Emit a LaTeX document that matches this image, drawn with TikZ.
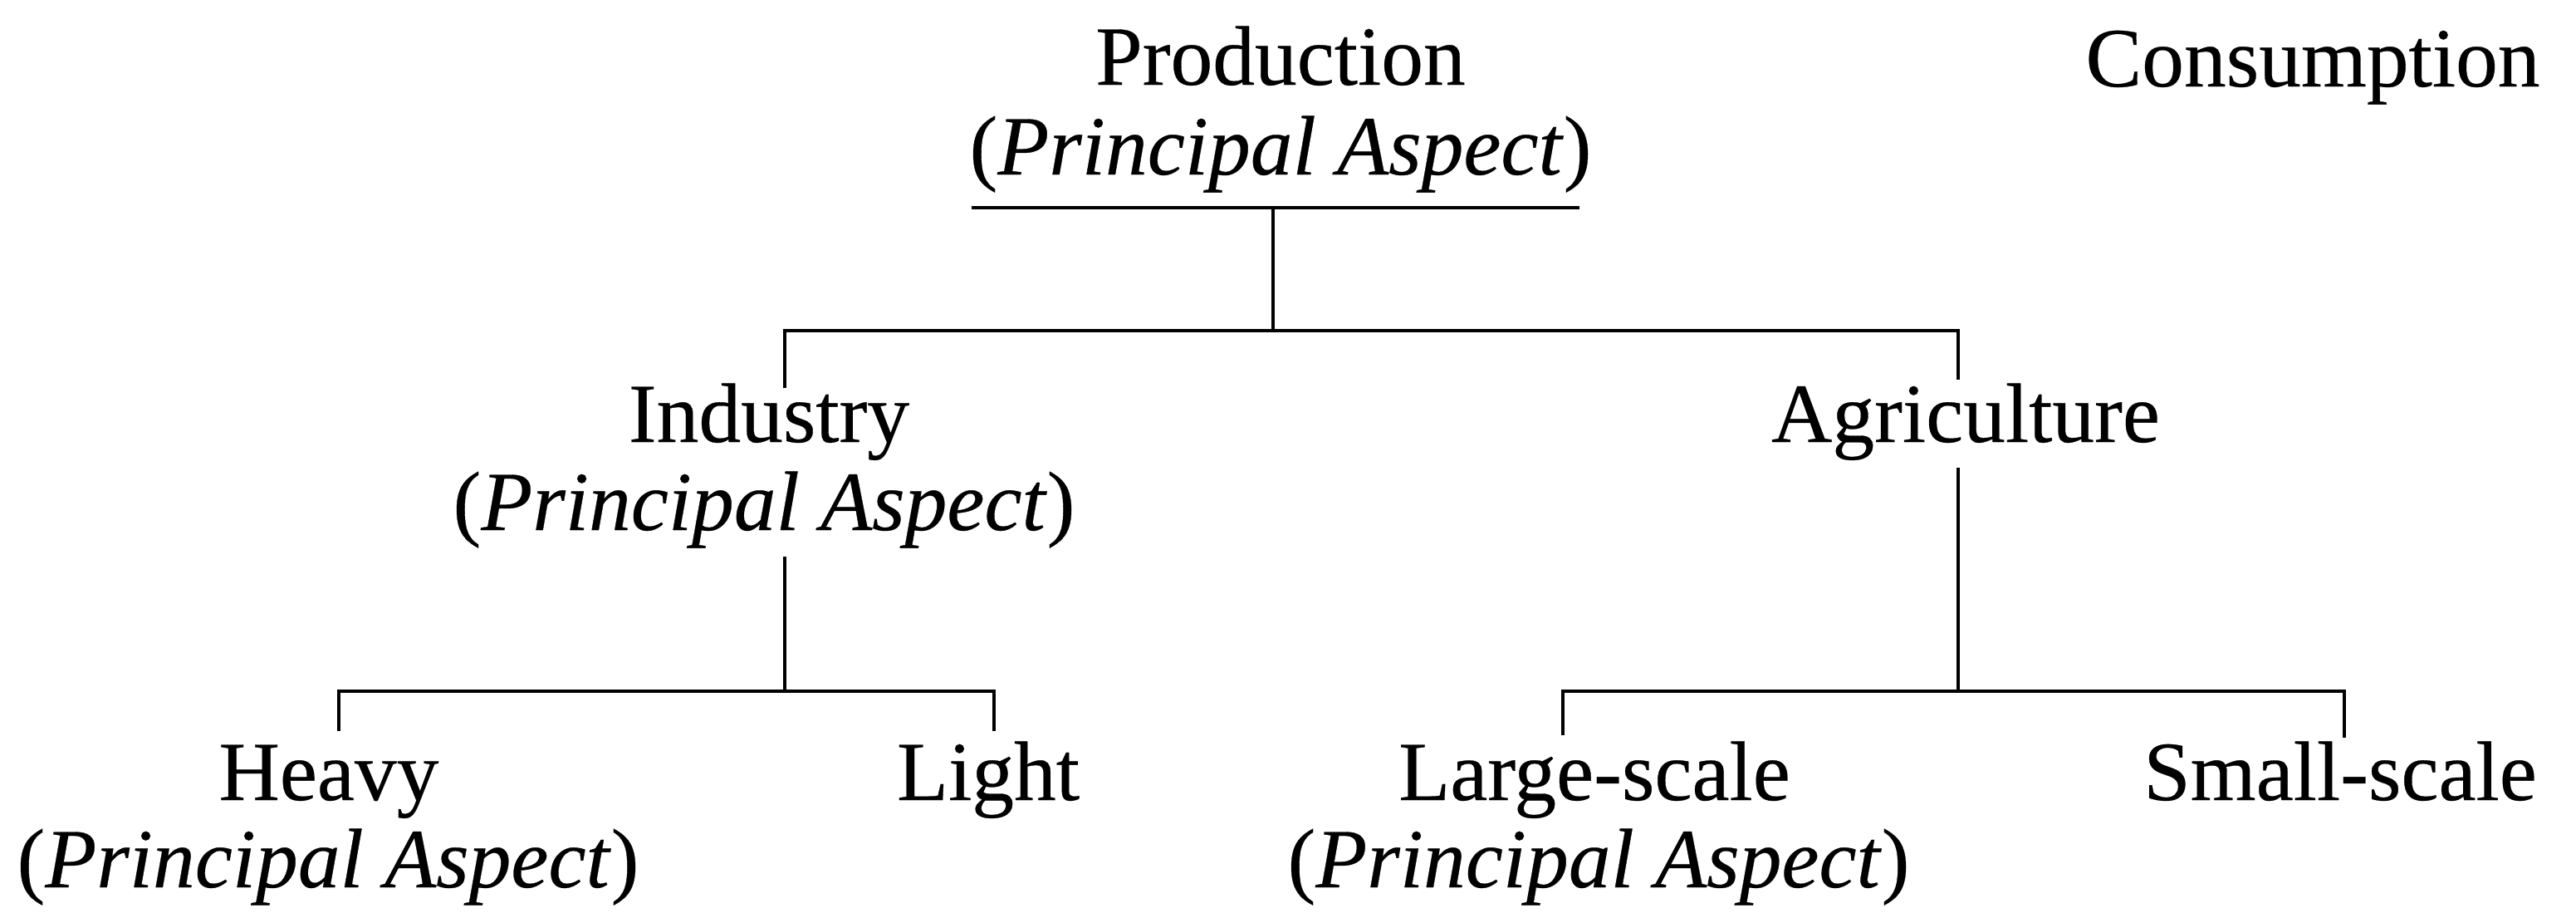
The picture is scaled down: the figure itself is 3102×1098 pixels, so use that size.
\documentclass[tikz,border=0pt]{standalone}
\usepackage{fontspec}
\setmainfont{Liberation Serif}[FakeBold=0.3]
\begin{document}
\begin{tikzpicture}[x=0.1pt,y=-0.1pt,
  lbl/.style={anchor=base,inner sep=0pt,font=\fontsize{10.15}{12}\selectfont},
  hline/.style={line width=0.45pt,line cap=rect},
  vline/.style={line width=0.35pt}]
\useasboundingbox (0,0) rectangle (3102,1098);
% texts
\node[lbl] (prod)    at (1542,102)  {Production};
\node[lbl] (prodpa)  at (1542,210)  {(\textit{Principal Aspect})};
\node[lbl] (cons)    at (2785,104)  {Consumption};
\node[lbl] (ind)     at (926,532)   {Industry};
\node[lbl] (indpa)   at (920,638)   {(\textit{Principal Aspect})};
\node[lbl] (agr)     at (2367,532)  {Agriculture};
\node[lbl] (heavy)   at (396,963)   {Heavy};
\node[lbl] (heavypa) at (395,1068)  {(\textit{Principal Aspect})};
\node[lbl] (light)   at (1190,963)  {Light};
\node[lbl] (large)   at (1920,963)  {Large-scale};
\node[lbl] (largepa) at (1925,1068) {(\textit{Principal Aspect})};
\node[lbl] (small)   at (2818,963)  {Small-scale};
% junction coordinates
\coordinate (ulL) at (1172,250);
\coordinate (ulR) at (1900,250);
\coordinate (pj)  at (1533,250);
\coordinate (pb)  at (1533,398);
\coordinate (tL)  at (945,398);
\coordinate (tR)  at (2358,398);
\coordinate (indTop) at (945,467);
\coordinate (agrTop) at (2358,457);
\coordinate (indBot) at (945,670);
\coordinate (agrBot) at (2358,563);
\coordinate (iJ)  at (945,832);
\coordinate (aJ)  at (2358,832);
\coordinate (hL)  at (408,832);
\coordinate (hR)  at (1197,832);
\coordinate (hLe) at (408,880);
\coordinate (hRe) at (1197,880);
\coordinate (aL)  at (1882,832);
\coordinate (aR)  at (2823,832);
\coordinate (aLe) at (1882,885);
\coordinate (aRe) at (2823,888);
% lines
\draw[hline] (ulL) -- (ulR);
\draw[vline] (pj) -- (pb);
\draw[hline] (tL) -- (tR);
\draw[vline] (tL) -- (indTop);
\draw[vline] (tR) -- (agrTop);
\draw[vline] (indBot) -- (iJ);
\draw[vline] (agrBot) -- (aJ);
\draw[hline] (hL) -- (hR);
\draw[vline] (hL) -- (hLe);
\draw[vline] (hR) -- (hRe);
\draw[hline] (aL) -- (aR);
\draw[vline] (aL) -- (aLe);
\draw[vline] (aR) -- (aRe);
\end{tikzpicture}
\end{document}
